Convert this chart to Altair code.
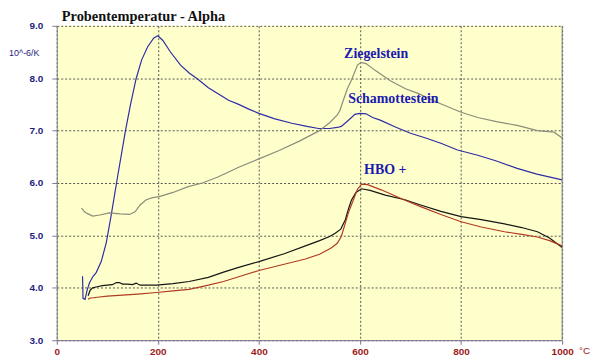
import altair as alt
import pandas as pd

# ---------------- data ----------------
series_names = ["Schamottestein", "Ziegelstein", "HBO schwarz", "HBO rot"]
series_colors = ["#2E2EA6", "#8C8C7C", "#151515", "#B03A22"]

scham_x = [51, 52, 56, 60, 65, 72, 78, 88, 98, 108, 120, 136, 146, 157, 168, 180, 192, 200,
           210, 225, 245, 262, 278, 300, 320, 340, 360, 380, 400, 430, 465, 495, 518, 540,
           555, 563, 575, 590, 600, 612, 625, 640, 670, 700, 730, 760, 793, 833, 870, 911,
           950, 1000]
scham_y = [4.22, 3.80, 3.78, 3.95, 4.10, 4.22, 4.29, 4.50, 4.86, 5.40, 6.10, 7.00, 7.50, 7.99,
           8.35, 8.60, 8.77, 8.81, 8.72, 8.50, 8.25, 8.10, 7.99, 7.82, 7.70, 7.58, 7.50, 7.41,
           7.33, 7.23, 7.14, 7.08, 7.04, 7.04, 7.06, 7.08, 7.18, 7.31, 7.33, 7.32, 7.25, 7.20,
           7.07, 6.95, 6.86, 6.76, 6.63, 6.53, 6.42, 6.28, 6.17, 6.06]

ziegel_x = [49, 55, 60, 71, 85, 104, 125, 144, 155, 165, 177, 190, 203, 230, 260, 288, 320,
            360, 400, 440, 480, 518, 540, 555, 560, 567, 575, 583, 595, 602, 612, 630, 660,
            690, 715, 750, 800, 833, 870, 911, 951, 984, 1000]
ziegel_y = [5.52, 5.45, 5.42, 5.37, 5.39, 5.43, 5.41, 5.40, 5.45, 5.58, 5.68, 5.72, 5.74, 5.82,
            5.93, 6.00, 6.12, 6.30, 6.46, 6.62, 6.80, 6.99, 7.15, 7.30, 7.38, 7.58, 7.80, 7.96,
            8.25, 8.30, 8.28, 8.15, 7.95, 7.80, 7.71, 7.55, 7.35, 7.25, 7.17, 7.10, 7.00, 6.97,
            6.86]

hbo_k_x = [62, 66, 71, 80, 90, 100, 110, 118, 124, 130, 140, 150, 157, 165, 180, 197, 230,
           262, 300, 330, 360, 400, 450, 492, 520, 540, 551, 562, 571, 577, 583, 592, 603,
           620, 650, 689, 720, 760, 800, 840, 886, 920, 951, 975, 1000]
hbo_k_y = [3.85, 3.95, 4.00, 4.02, 4.04, 4.05, 4.06, 4.10, 4.10, 4.07, 4.07, 4.06, 4.09, 4.05,
           4.05, 4.05, 4.08, 4.12, 4.20, 4.30, 4.39, 4.50, 4.65, 4.80, 4.90, 4.98, 5.04, 5.12,
           5.30, 5.50, 5.67, 5.82, 5.89, 5.86, 5.77, 5.68, 5.58, 5.46, 5.36, 5.30, 5.22, 5.15,
           5.07, 4.95, 4.77]

hbo_r_x = [62, 65, 80, 100, 130, 160, 197, 230, 262, 300, 330, 360, 400, 450, 492, 520, 543,
           555, 563, 570, 577, 587, 595, 603, 615, 642, 689, 720, 760, 800, 840, 886, 920,
           951, 975, 1000]
hbo_r_y = [3.78, 3.80, 3.82, 3.84, 3.86, 3.88, 3.91, 3.94, 3.97, 4.05, 4.12, 4.21, 4.33, 4.45,
           4.55, 4.64, 4.76, 4.85, 4.98, 5.20, 5.43, 5.68, 5.88, 5.98, 5.97, 5.87, 5.67, 5.55,
           5.40, 5.26, 5.16, 5.07, 5.02, 4.97, 4.90, 4.80]

label_texts = ["Ziegelstein", "Schamottestein", "HBO +"]
label_x = [632, 666, 650]
label_y = [8.47, 7.61, 6.25]

x_ticks = [0, 200, 400, 600, 800, 1000]
y_ticks = [3, 4, 5, 6, 7, 8, 9]

title_text = "Probentemperatur - Alpha"
y_unit = "10^-6/K"
x_unit = "°C"

# ---------------- build table ----------------
rows = []
for name, xs, ys in [
    (series_names[0], scham_x, scham_y),
    (series_names[1], ziegel_x, ziegel_y),
    (series_names[2], hbo_k_x, hbo_k_y),
    (series_names[3], hbo_r_x, hbo_r_y),
]:
    for i, (xv, yv) in enumerate(zip(xs, ys)):
        rows.append({"series": name, "t": xv, "v": yv, "i": i})
df = pd.DataFrame(rows)
labels_df = pd.DataFrame({"label": label_texts, "t": label_x, "v": label_y})

x_scale = alt.Scale(domain=[0, 1000], nice=False, zero=False)
y_scale = alt.Scale(domain=[3, 9], nice=False, zero=False)

x_axis = alt.Axis(values=x_ticks, title=None, format="d", grid=True,
                  gridDash=[2, 2], gridColor="#444444", gridOpacity=0.9,
                  domainColor="#7C6F8A", tickColor="#7C6F8A", tickSize=4,
                  labelColor="#9B1B1B", labelFont="Liberation Sans",
                  labelFontSize=10, labelFontWeight="bold", labelPadding=2,
                  labelFlush=False)
y_axis = alt.Axis(values=y_ticks, title=None, format=".1f", grid=True,
                  gridDash=[2, 2], gridColor="#444444", gridOpacity=0.9,
                  domainColor="#7C7C9A", tickColor="#7C7C9A", tickSize=5,
                  labelColor="#1E1E80", labelFont="Liberation Sans",
                  labelFontSize=10, labelFontWeight="bold", labelPadding=9)

lines = alt.Chart(df).mark_line(strokeWidth=1.2, clip=True).encode(
    x=alt.X("t:Q", scale=x_scale, axis=x_axis),
    y=alt.Y("v:Q", scale=y_scale, axis=y_axis),
    color=alt.Color("series:N", scale=alt.Scale(domain=series_names, range=series_colors),
                    legend=None),
    order=alt.Order("i:Q"),
)

border = alt.Chart(pd.DataFrame({"b": [1000]})).mark_rule(color="#7A7A7A", strokeWidth=1).encode(
    x=alt.X("b:Q", scale=x_scale)
)

labels = alt.Chart(labels_df).mark_text(
    font="Liberation Serif", fontWeight="bold", fontSize=14, color="#1A1AB0", align="center",
    baseline="middle"
).encode(
    x=alt.X("t:Q", scale=x_scale),
    y=alt.Y("v:Q", scale=y_scale),
    text="label:N",
)

title = alt.Chart(pd.DataFrame({"s": [title_text]})).mark_text(
    font="Liberation Serif", fontWeight="bold", fontSize=14.5, color="#111111",
    align="left", baseline="middle"
).encode(x=alt.value(5), y=alt.value(-9), text="s:N")

yunit = alt.Chart(pd.DataFrame({"s": [y_unit]})).mark_text(
    font="Liberation Sans", fontSize=9, color="#1E1E80", align="left", baseline="middle"
).encode(x=alt.value(-48), y=alt.value(27), text="s:N")

xunit = alt.Chart(pd.DataFrame({"s": [x_unit]})).mark_text(
    font="Liberation Sans", fontSize=10, color="#9B1B1B", align="left", baseline="middle"
).encode(x=alt.value(525), y=alt.value(327), text="s:N")

chart = alt.layer(lines, border, labels, title, yunit, xunit).properties(
    width=508, height=316,
    autosize=alt.AutoSizeParams(type="none"),
    padding={"left": 49, "top": 17, "right": 30, "bottom": 20},
    background="#FFFFFF",
).configure_view(fill="#FFFFCC", stroke=None)

chart.save("out.html", embed_options={"renderer": "svg", "actions": False})
